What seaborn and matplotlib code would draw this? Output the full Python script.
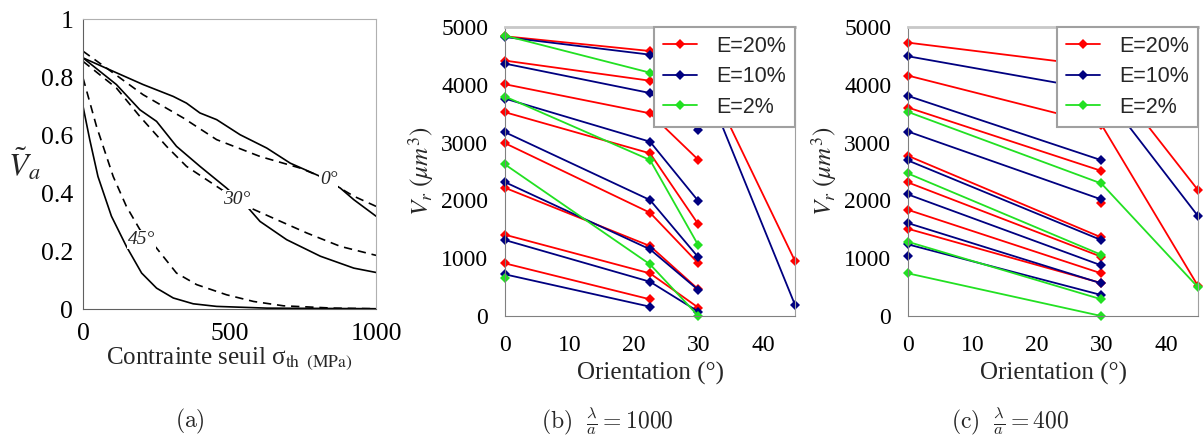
import matplotlib
matplotlib.use("Agg")
import pandas as pd
import matplotlib.pyplot as plt
import seaborn as sns
from matplotlib.ticker import MultipleLocator, FuncFormatter
from matplotlib.lines import Line2D

# ---- (a) fraction of active volume vs threshold stress ----
sig_0_solid = [0, 91, 205, 308, 353, 399, 456, 536, 627, 707, 810, 878, 924, 1000]
va_0_solid = [0.866, 0.825, 0.774, 0.733, 0.71, 0.676, 0.653, 0.601, 0.555, 0.503, 0.457, 0.417, 0.377, 0.32]
sig_0_dash = [0, 80, 205, 342, 456, 604, 741, 810, 924, 1000]
va_0_dash = [0.889, 0.831, 0.739, 0.659, 0.584, 0.526, 0.486, 0.457, 0.389, 0.354]
sig_30_solid = [0, 114, 194, 251, 319, 399, 490, 559, 604, 695, 810, 924, 1000]
va_30_solid = [0.866, 0.774, 0.687, 0.647, 0.561, 0.492, 0.417, 0.354, 0.302, 0.239, 0.182, 0.141, 0.126]
sig_30_dash = [0, 114, 194, 285, 353, 456, 559, 661, 764, 878, 1000]
va_30_dash = [0.854, 0.762, 0.664, 0.561, 0.492, 0.423, 0.354, 0.308, 0.262, 0.216, 0.185]
sig_45_solid = [0, 23, 51, 97, 148, 200, 251, 308, 376, 456, 627, 1000]
va_45_solid = [0.699, 0.584, 0.457, 0.32, 0.216, 0.124, 0.072, 0.038, 0.018, 0.009, 0.003, 0.001]
sig_45_dash = [0, 46, 103, 148, 194, 251, 319, 388, 490, 582, 684, 855, 1000]
va_45_dash = [0.797, 0.63, 0.457, 0.354, 0.274, 0.21, 0.124, 0.084, 0.049, 0.026, 0.011, 0.003, 0.001]

# ---- (b) lambda/a = 1000 : Vr vs orientation, one list per curve ----
orient_b = [0, 22.5, 30, 45]
vr_b_20 = [[4840, 4585, 4420, 950], [4419, 4071, 3740], [4010, 3507, 2702], [3526, 2815, 1585],
           [2990, 1787, 911], [2218, 1211, 461], [1406, 738, 144], [911, 289]]
vr_b_10 = [[4827, 4522, 4300, 190], [4367, 3858, 3214], [3762, 3016, 1988], [3180, 2007, 1015],
           [2316, 1154, 449], [1314, 593, 75], [721, 161]]
vr_b_2 = [[4851, 4210, 3570], [3797, 2699, 1222], [2622, 894, 0], [662]]

# ---- (c) lambda/a = 400 ----
orient_c = [0, 30, 45]
vr_c_20 = [[4730, 4316, 2178], [4160, 3313, 518], [3607, 2511], [2771, 1360], [2311, 1025],
           [1837, 738], [1509, 570], [None, 1958]]
vr_c_10 = [[4494, 3900, 1728], [3808, 2696], [3192, 2017], [2691, 1313], [2103, 876],
           [1607, 565], [1239, 363], [1037]]
vr_c_2 = [[3531, 2293, 496], [2466, 1059], [1284, 289], [738, 0]]

E_labels = ["E=20%", "E=10%", "E=2%"]
E_colors = {"E=20%": "#ff0000", "E=10%": "#000080", "E=2%": "#22e022"}

sns.set_style("white")
plt.rcParams["font.family"] = ["Liberation Serif", "DejaVu Serif"]
plt.rcParams["mathtext.fontset"] = "stix"


def curves_df(xs, groups):
    rows = []
    for lab, curves in zip(E_labels, groups):
        for i, c in enumerate(curves):
            for x, v in zip(xs, c):
                if v is not None:
                    rows.append({"orientation": x, "vr": v, "E": lab, "curve": f"{lab}_{i}"})
    return pd.DataFrame(rows)


a_rows = []
for ang, mod, s, v in [("0", "solid", sig_0_solid, va_0_solid), ("0", "dash", sig_0_dash, va_0_dash),
                       ("30", "solid", sig_30_solid, va_30_solid), ("30", "dash", sig_30_dash, va_30_dash),
                       ("45", "solid", sig_45_solid, va_45_solid), ("45", "dash", sig_45_dash, va_45_dash)]:
    for x, y in zip(s, v):
        a_rows.append({"sigma": x, "va": y, "angle": ang, "model": mod, "curve": ang + mod})
df_a = pd.DataFrame(a_rows)

fig = plt.figure(figsize=(12.03, 4.41), dpi=100)
ax_a = fig.add_axes([0.069, 0.2993, 0.2436, 0.6576])
ax_b = fig.add_axes([0.4198, 0.2834, 0.2411, 0.6553])
ax_c = fig.add_axes([0.7548, 0.2834, 0.2411, 0.6553])

# panel a
sns.lineplot(data=df_a, x="sigma", y="va", style="model", units="curve", estimator=None, sort=False,
             color="black", linewidth=1.2, dashes={"solid": "", "dash": (5, 3.5)}, legend=False, ax=ax_a)
ax_a.set_xlim(0, 1000)
ax_a.set_ylim(0, 1)
ax_a.xaxis.set_major_locator(MultipleLocator(500))
ax_a.xaxis.set_minor_locator(MultipleLocator(250))
ax_a.yaxis.set_major_locator(MultipleLocator(0.2))
ax_a.yaxis.set_minor_locator(MultipleLocator(0.1))
ax_a.yaxis.set_major_formatter(FuncFormatter(lambda v, p: f"{v:g}"))
ax_a.tick_params(which="both", direction="in", colors="#707070", labelcolor="black", labelsize=18.5)
ax_a.tick_params(which="both", length=6, width=1)
ax_a.tick_params(axis="x", pad=10)
ax_a.tick_params(axis="y", pad=7)
ax_a.set_xlabel("Contrainte seuil σ$_{\\mathrm{th}}$ $_{\\mathrm{(MPa)}}$", fontsize=18, labelpad=0)
ax_a.set_ylabel(r"$\tilde{V}_a$", fontsize=23, rotation=0, labelpad=12, va="center")
for sp in ["left", "bottom"]:
    ax_a.spines[sp].set_color("#606060")
for sp in ["top", "right"]:
    ax_a.spines[sp].set_color("#b0b0b0")
for txt, x, y in [("0°", 838, 0.446), ("30°", 524, 0.377), ("45°", 200, 0.239)]:
    ax_a.text(x, y, txt, fontsize=14, fontstyle="italic", ha="center", va="center",
              bbox=dict(facecolor="white", edgecolor="none", pad=0.5))

# panels b and c
for ax, xs, groups in [(ax_b, orient_b, [vr_b_20, vr_b_10, vr_b_2]),
                       (ax_c, orient_c, [vr_c_20, vr_c_10, vr_c_2])]:
    df = curves_df(xs, groups)
    sns.lineplot(data=df, x="orientation", y="vr", hue="E", units="curve", estimator=None, sort=False,
                 palette=E_colors, hue_order=E_labels, marker="D", markersize=5, markeredgewidth=0,
                 linewidth=1.3, legend=False, clip_on=False, ax=ax)
    ax.set_xlim(0, 45)
    ax.set_ylim(0, 5000)
    ax.xaxis.set_major_locator(MultipleLocator(10))
    ax.xaxis.set_minor_locator(MultipleLocator(5))
    ax.yaxis.set_major_locator(MultipleLocator(1000))
    ax.yaxis.set_minor_locator(MultipleLocator(500))
    ax.tick_params(which="both", direction="in", colors="#808080", labelcolor="black", labelsize=17)
    ax.tick_params(which="major", length=11, width=1)
    ax.tick_params(which="minor", length=6, width=1)
    ax.tick_params(axis="x", pad=14)
    ax.tick_params(axis="y", pad=12)
    ax.set_xlabel("Orientation (°)", fontsize=18, labelpad=4)
    ax.set_ylabel(r"$V_r\ (\mu m^3)$", fontsize=18, labelpad=4)
    ax.spines["left"].set_color("#808080")
    ax.spines["bottom"].set_color("#808080")
    ax.spines["right"].set_color("#a0a0a0")
    ax.spines["top"].set_color("#c8c8c8")
    ax.spines["top"].set_linewidth(2)
    handles = [Line2D([], [], color=E_colors[l], marker="D", markersize=5, markeredgewidth=0, lw=1.3)
               for l in E_labels]
    leg = ax.legend(handles, E_labels, loc="upper right", bbox_to_anchor=(1, 1), borderaxespad=0,
                    prop={"family": "Liberation Sans", "size": 15.5}, frameon=True, fancybox=False,
                    framealpha=1, edgecolor="#a0a0a0", handlelength=1.6, handletextpad=0.9,
                    labelspacing=0.45, borderpad=0.4)
    leg.get_frame().set_linewidth(1.5)

cap_kw = dict(fontsize=17, ha="center", va="center", math_fontfamily="cm")
fig.text(190 / 1203, 1 - 421 / 441, r"$\mathrm{(a)}$", **cap_kw)
fig.text(607 / 1203, 1 - 421 / 441, r"$\mathrm{(b)}\ \ \frac{\lambda}{a} = 1000$", **cap_kw)
fig.text(1010 / 1203, 1 - 421 / 441, r"$\mathrm{(c)}\ \ \frac{\lambda}{a} = 400$", **cap_kw)

fig.savefig("out.png", dpi=100)
